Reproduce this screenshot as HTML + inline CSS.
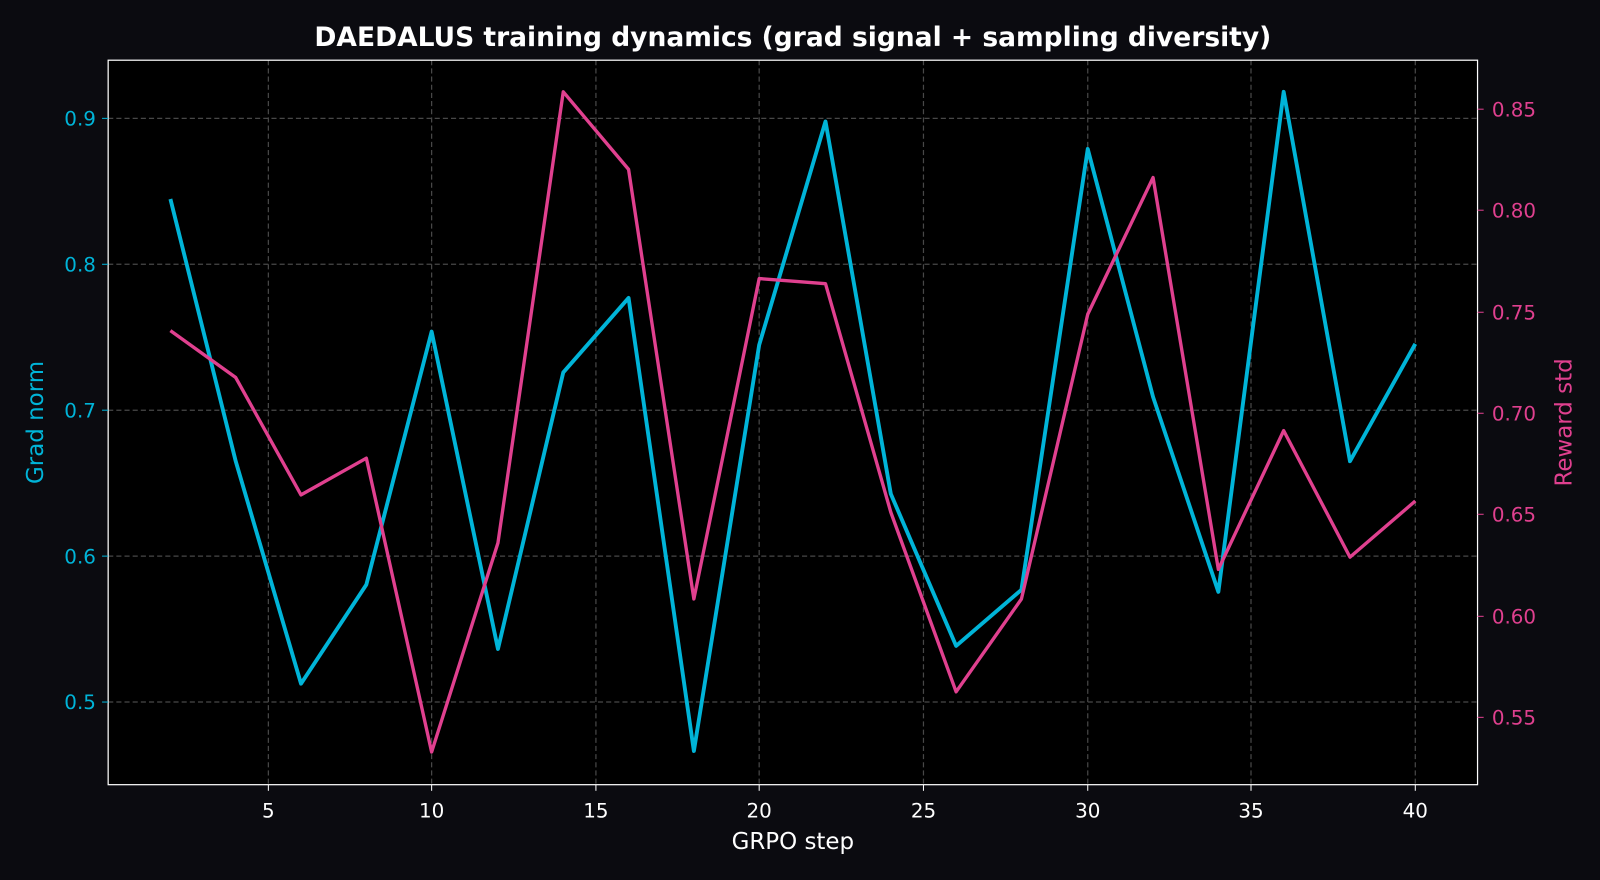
<!DOCTYPE html>
<html><head><meta charset="utf-8"><style>
html,body{margin:0;padding:0;background:#0b0b10;}
svg{display:block;font-family:"DejaVu Sans","Liberation Sans",sans-serif;}
</style></head><body>
<svg width="1600" height="880" viewBox="0 0 1600 880">
<rect width="1600" height="880" fill="#0b0b10"/>
<g transform="scale(1.0204)">
<rect x="106" y="59" width="1342" height="710" fill="#000"/>
<g stroke="#484848" stroke-width="1.2" stroke-dasharray="5,3">
<line x1="263" y1="59" x2="263" y2="769"/><line x1="423" y1="59" x2="423" y2="769"/>
<line x1="584" y1="59" x2="584" y2="769"/><line x1="744" y1="59" x2="744" y2="769"/>
<line x1="905" y1="59" x2="905" y2="769"/><line x1="1066" y1="59" x2="1066" y2="769"/>
<line x1="1226" y1="59" x2="1226" y2="769"/><line x1="1387" y1="59" x2="1387" y2="769"/>
<line x1="106" y1="116" x2="1448" y2="116"/><line x1="106" y1="259" x2="1448" y2="259"/>
<line x1="106" y1="402" x2="1448" y2="402"/><line x1="106" y1="545" x2="1448" y2="545"/>
<line x1="106" y1="688" x2="1448" y2="688"/>
</g>
<polyline fill="none" stroke="#00b4d8" stroke-width="3.8" stroke-linejoin="round" points="167,195 231,452 295,670 359,573 423,325 488,636 552,365 616,292 680,736 744,338 809,119 873,484 937,633 1001,578 1066,146 1130,389 1194,580 1258,90 1323,452 1387,337"/>
<polyline fill="none" stroke="#e0408f" stroke-width="3.3" stroke-linejoin="round" points="167,324 231,370 295,485 359,449 423,737 488,532 552,90 616,166 680,587 744,273 809,278 873,502 937,678 1001,587 1066,308 1130,174 1194,558 1258,422 1323,546 1387,491"/>
<rect x="106" y="59" width="1342" height="710" fill="none" stroke="#fff" stroke-width="1.2"/>
<g stroke="#fff" stroke-width="1">
<line x1="263" y1="769" x2="263" y2="775"/><line x1="423" y1="769" x2="423" y2="775"/><line x1="584" y1="769" x2="584" y2="775"/><line x1="744" y1="769" x2="744" y2="775"/><line x1="905" y1="769" x2="905" y2="775"/><line x1="1066" y1="769" x2="1066" y2="775"/><line x1="1226" y1="769" x2="1226" y2="775"/><line x1="1387" y1="769" x2="1387" y2="775"/>
</g>
<g stroke="#00b4d8"><line x1="100" y1="116" x2="106" y2="116"/><line x1="100" y1="259" x2="106" y2="259"/><line x1="100" y1="402" x2="106" y2="402"/><line x1="100" y1="545" x2="106" y2="545"/><line x1="100" y1="688" x2="106" y2="688"/></g>
<g stroke="#e0408f"><line x1="1448" y1="107" x2="1454" y2="107"/><line x1="1448" y1="206" x2="1454" y2="206"/><line x1="1448" y1="306" x2="1454" y2="306"/><line x1="1448" y1="405" x2="1454" y2="405"/><line x1="1448" y1="504" x2="1454" y2="504"/><line x1="1448" y1="604" x2="1454" y2="604"/><line x1="1448" y1="703" x2="1454" y2="703"/></g>
<g fill="#fff" font-size="19.5" text-anchor="middle">
<text x="263" y="801">5</text><text x="423" y="801">10</text><text x="584" y="801">15</text><text x="744" y="801">20</text><text x="905" y="801">25</text><text x="1066" y="801">30</text><text x="1226" y="801">35</text><text x="1387" y="801">40</text>
<text x="777" y="832" font-size="22.5">GRPO step</text>
<text x="777" y="45" font-size="26" font-weight="bold">DAEDALUS training dynamics (grad signal + sampling diversity)</text>
</g>
<g fill="#00b4d8" font-size="19.5" text-anchor="end">
<text x="94" y="123">0.9</text><text x="94" y="266">0.8</text><text x="94" y="409">0.7</text><text x="94" y="552">0.6</text><text x="94" y="695">0.5</text>
</g>
<text transform="translate(42,414) rotate(-90)" fill="#00b4d8" font-size="22.5" text-anchor="middle">Grad norm</text>
<g fill="#e0408f" font-size="19.5" text-anchor="start">
<text x="1462" y="114">0.85</text><text x="1462" y="213">0.80</text><text x="1462" y="313">0.75</text><text x="1462" y="412">0.70</text><text x="1462" y="511">0.65</text><text x="1462" y="611">0.60</text><text x="1462" y="710">0.55</text>
</g>
<text transform="translate(1540,414) rotate(-90)" fill="#e0408f" font-size="22.5" text-anchor="middle">Reward std</text>
</g>
</svg>
</body></html>
